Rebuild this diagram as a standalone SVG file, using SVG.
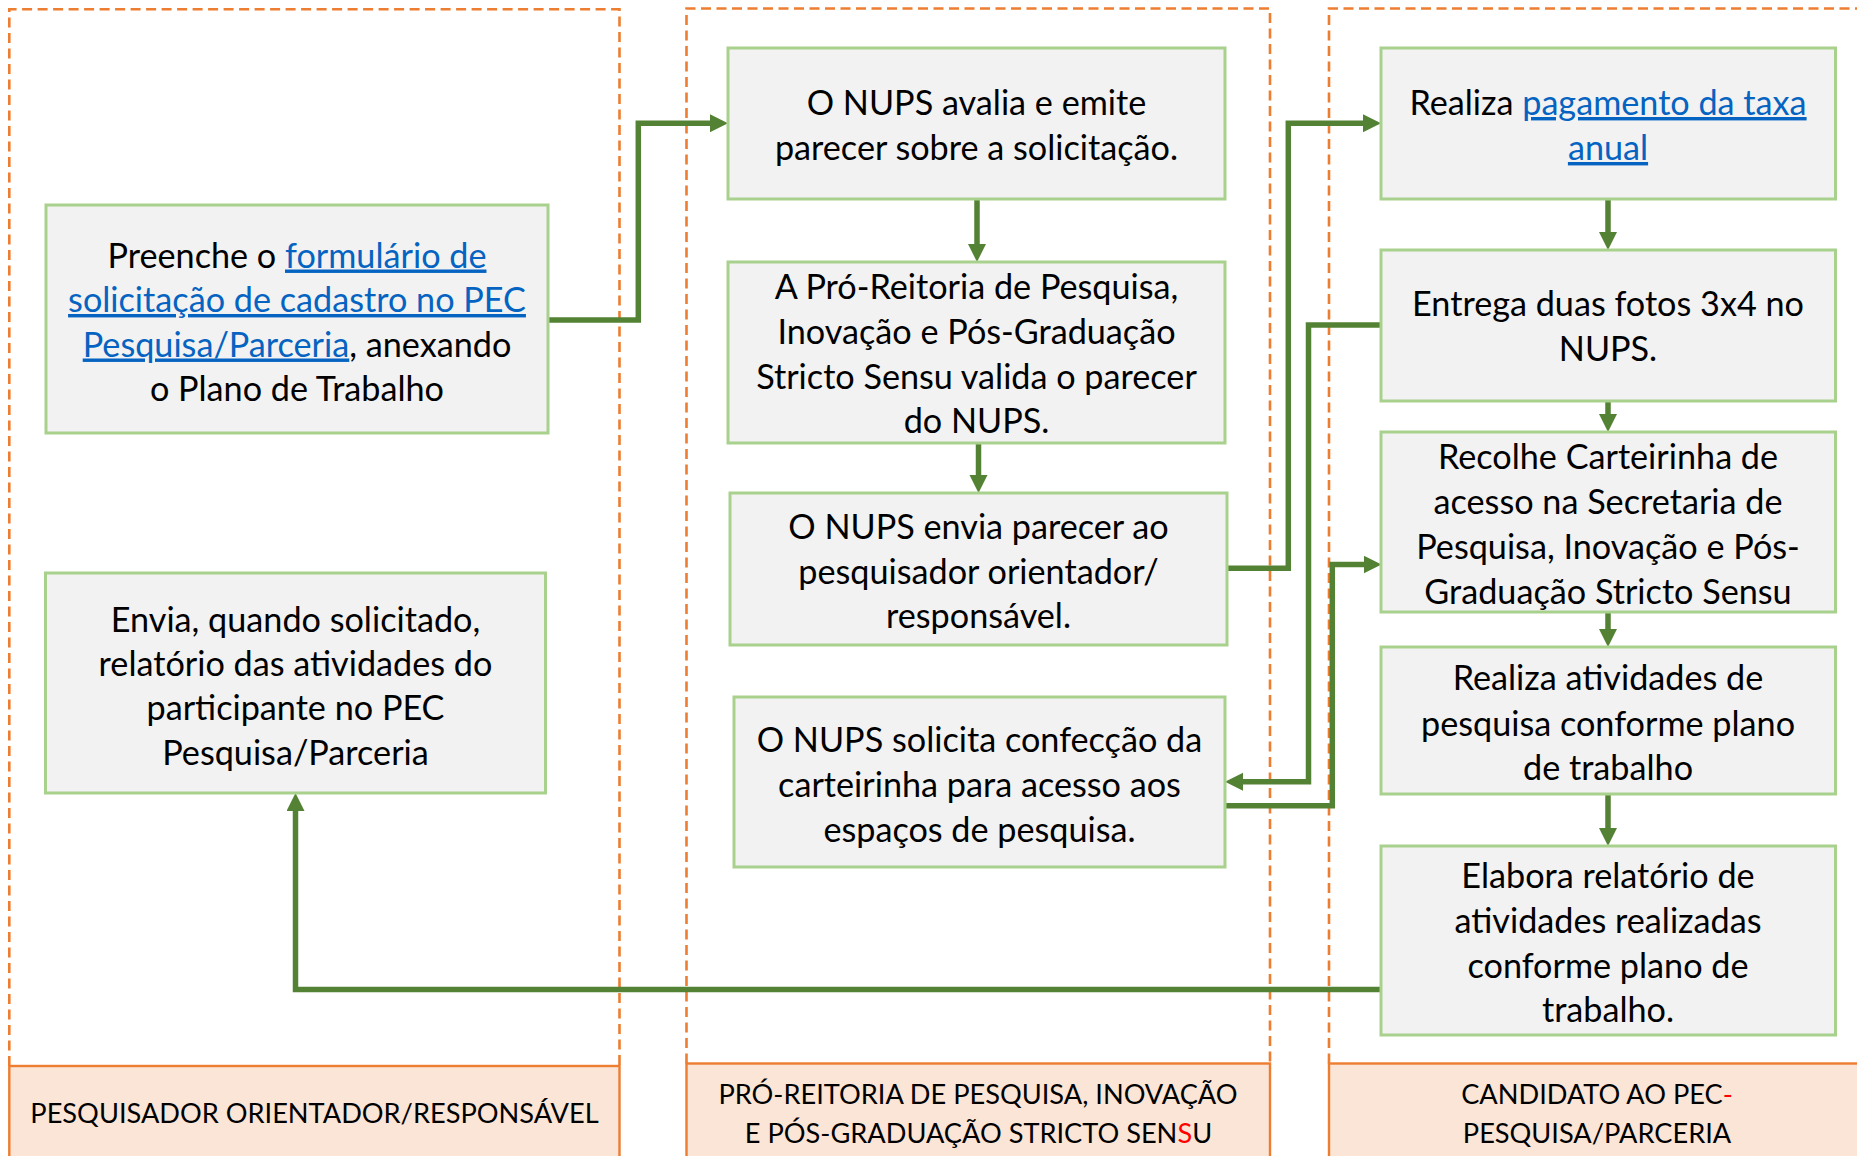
<svg xmlns="http://www.w3.org/2000/svg" width="1857" height="1156" viewBox="0 0 1857 1156">
<style>
.lane{fill:none;stroke:#ED7D31;stroke-width:2.6;stroke-dasharray:10 5.5}
.hdr{fill:#FBE5D6;stroke:#ED7D31;stroke-width:2.4}
.box{fill:#F2F2F2;stroke:#A9D18E;stroke-width:3}
.t{font-family:Lato,"Liberation Sans",sans-serif;font-size:34.2px;fill:#000;text-anchor:middle}
.h{font-family:Lato,"Liberation Sans",sans-serif;font-size:27.2px;fill:#000;text-anchor:middle}
.lk{fill:#0563C1;text-decoration:underline}
.red{fill:#FF0000}
.con{fill:none;stroke:#548235;stroke-width:5.5}
</style>
<defs>
<marker id="ah" markerWidth="20" markerHeight="20" refX="1" refY="9" orient="auto" markerUnits="userSpaceOnUse">
<path d="M0,0 L18,9 L0,18 z" fill="#548235"/>
</marker>
</defs>
<rect width="1857" height="1156" fill="#FFFFFF"/>
<g id="lanes">
<path class="lane" d="M9.3,1066 V9.3 H619.5 V1066"/>
<path class="lane" d="M686.5,1063.5 V8.5 H1270 V1063.5"/>
<path class="lane" d="M1329,1063.5 V8.5 H1860"/>
</g>
<g id="lane-pesquisador">
<rect class="hdr" x="9.3" y="1066" width="610.2" height="100"/>
<text class="h" x="314.5" y="1123">PESQUISADOR ORIENTADOR/RESPONSÁVEL</text>
</g>
<g id="lane-proreitoria">
<rect class="hdr" x="686.5" y="1063.5" width="583.5" height="100"/>
<text class="h" x="978" y="1104">PRÓ-REITORIA DE PESQUISA, INOVAÇÃO</text>
<text class="h" x="978.5" y="1143">E PÓS-GRADUAÇÃO STRICTO SEN<tspan class="red">S</tspan>U</text>
</g>
<g id="lane-candidato">
<rect class="hdr" x="1329" y="1063.5" width="560" height="100"/>
<text class="h" x="1597" y="1104">CANDIDATO AO PEC<tspan class="red">-</tspan></text>
<text class="h" x="1597" y="1143">PESQUISA/PARCERIA</text>
</g>
<g id="connectors">
<path class="con" d="M548,320 H638.3 V123.3 H711" marker-end="url(#ah)"/>
<path class="con" d="M977,199 V245" marker-end="url(#ah)"/>
<path class="con" d="M978.5,443 V476" marker-end="url(#ah)"/>
<path class="con" d="M1227,568.3 H1288.3 V123.3 H1364" marker-end="url(#ah)"/>
<path class="con" d="M1381,325 H1308.5 V781.7 H1242" marker-end="url(#ah)"/>
<path class="con" d="M1225,805.7 H1332.3 V564.5 H1364.5" marker-end="url(#ah)"/>
<path class="con" d="M1608,199 V233" marker-end="url(#ah)"/>
<path class="con" d="M1608,401 V415" marker-end="url(#ah)"/>
<path class="con" d="M1608,612 V630" marker-end="url(#ah)"/>
<path class="con" d="M1608,794 V829" marker-end="url(#ah)"/>
<path class="con" d="M1381,989.5 H295.5 V810" marker-end="url(#ah)"/>
</g>
<g id="n-preenche">
<rect class="box" x="46" y="205" width="502" height="228"/>
<text class="t" x="297" y="267.5">Preenche o <tspan class="lk">formulário de</tspan></text>
<text class="t" x="297" y="312"><tspan class="lk">solicitação de cadastro no PEC</tspan></text>
<text class="t" x="297" y="356.5"><tspan class="lk">Pesquisa/Parceria</tspan>, anexando</text>
<text class="t" x="297" y="401">o Plano de Trabalho</text>
</g>
<g id="n-envia-relatorio">
<rect class="box" x="45.5" y="573" width="500" height="220"/>
<text class="t" x="295.5" y="631.5">Envia, quando solicitado,</text>
<text class="t" x="295.5" y="676">relatório das atividades do</text>
<text class="t" x="295.5" y="720">participante no PEC</text>
<text class="t" x="295.5" y="764.5">Pesquisa/Parceria</text>
</g>
<g id="n-avalia">
<rect class="box" x="728" y="48" width="497" height="151"/>
<text class="t" x="976.5" y="115">O NUPS avalia e emite</text>
<text class="t" x="976.5" y="160">parecer sobre a solicitação.</text>
</g>
<g id="n-valida">
<rect class="box" x="728" y="262" width="497" height="181"/>
<text class="t" x="976.5" y="298.5">A Pró-Reitoria de Pesquisa,</text>
<text class="t" x="976.5" y="343.5">Inovação e Pós-Graduação</text>
<text class="t" x="976.5" y="388.5">Stricto Sensu valida o parecer</text>
<text class="t" x="976.5" y="432.5">do NUPS.</text>
</g>
<g id="n-envia-parecer">
<rect class="box" x="730" y="493" width="497" height="152"/>
<text class="t" x="978.5" y="538.5">O NUPS envia parecer ao</text>
<text class="t" x="978.5" y="583.5">pesquisador orientador/</text>
<text class="t" x="978.5" y="628">responsável.</text>
</g>
<g id="n-solicita">
<rect class="box" x="734" y="697" width="491" height="170"/>
<text class="t" x="979.5" y="751.5">O NUPS solicita confecção da</text>
<text class="t" x="979.5" y="797">carteirinha para acesso aos</text>
<text class="t" x="979.5" y="841.5">espaços de pesquisa.</text>
</g>
<g id="n-pagamento">
<rect class="box" x="1381" y="48" width="454.5" height="151"/>
<text class="t" x="1608" y="115">Realiza <tspan class="lk">pagamento da taxa</tspan></text>
<text class="t" x="1608" y="160"><tspan class="lk">anual</tspan></text>
</g>
<g id="n-fotos">
<rect class="box" x="1381" y="250" width="454.5" height="151"/>
<text class="t" x="1608" y="316">Entrega duas fotos 3x4 no</text>
<text class="t" x="1608" y="361">NUPS.</text>
</g>
<g id="n-recolhe">
<rect class="box" x="1381" y="432" width="454.5" height="180"/>
<text class="t" x="1608" y="468.5">Recolhe Carteirinha de</text>
<text class="t" x="1608" y="513.5">acesso na Secretaria de</text>
<text class="t" x="1608" y="559">Pesquisa, Inovação e Pós-</text>
<text class="t" x="1608" y="603.5">Graduação Stricto Sensu</text>
</g>
<g id="n-atividades">
<rect class="box" x="1381" y="647" width="454.5" height="147"/>
<text class="t" x="1608" y="689.5">Realiza atividades de</text>
<text class="t" x="1608" y="735.5">pesquisa conforme plano</text>
<text class="t" x="1608" y="780">de trabalho</text>
</g>
<g id="n-elabora">
<rect class="box" x="1381" y="846" width="454.5" height="189"/>
<text class="t" x="1608" y="888">Elabora relatório de</text>
<text class="t" x="1608" y="933">atividades realizadas</text>
<text class="t" x="1608" y="977.5">conforme plano de</text>
<text class="t" x="1608" y="1022">trabalho.</text>
</g>
</svg>
